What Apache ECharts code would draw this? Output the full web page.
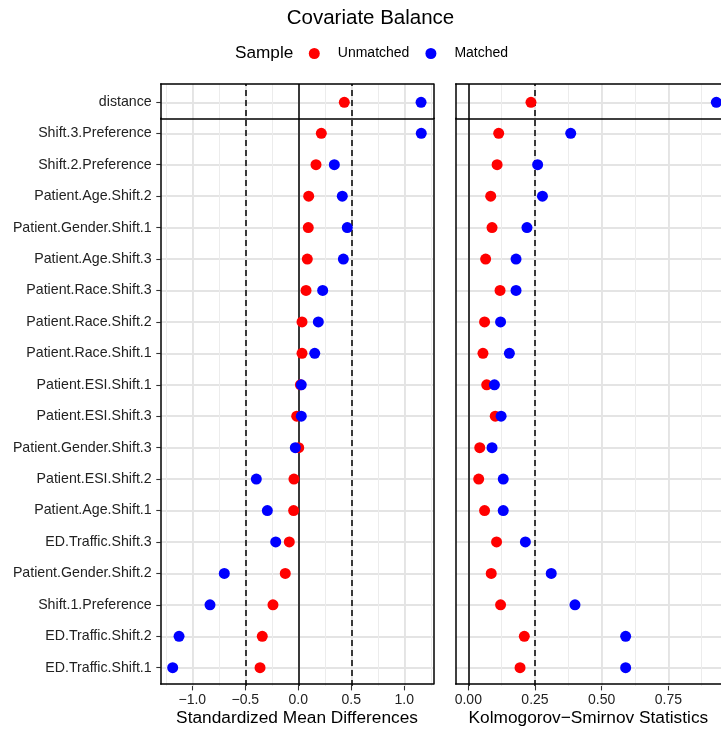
<!DOCTYPE html>
<html>
<head>
<meta charset="utf-8">
<script src="https://cdn.jsdelivr.net/npm/echarts@6/dist/echarts.min.js"></script>
<style>html,body{margin:0;padding:0;background:#fff;}#chart{width:721px;height:732px;}</style>
</head>
<body>
<div id="chart"></div>
<script>
// ---- data ----
const covariates = ["Shift.3.Preference","Shift.2.Preference","Patient.Age.Shift.2","Patient.Gender.Shift.1","Patient.Age.Shift.3","Patient.Race.Shift.3","Patient.Race.Shift.2","Patient.Race.Shift.1","Patient.ESI.Shift.1","Patient.ESI.Shift.3","Patient.Gender.Shift.3","Patient.ESI.Shift.2","Patient.Age.Shift.1","ED.Traffic.Shift.3","Patient.Gender.Shift.2","Shift.1.Preference","ED.Traffic.Shift.2","ED.Traffic.Shift.1"];
const smdUnmatched = [0.217,0.167,0.098,0.094,0.085,0.073,0.035,0.035,0.020,-0.015,0.004,-0.041,-0.044,-0.085,-0.123,-0.239,-0.340,-0.361];
const smdMatched   = [1.160,0.340,0.415,0.462,0.425,0.230,0.189,0.155,0.028,0.028,-0.028,-0.396,-0.292,-0.213,-0.698,-0.833,-1.125,-1.185];
const ksUnmatched  = [0.114,0.108,0.084,0.089,0.065,0.119,0.061,0.055,0.069,0.101,0.043,0.039,0.061,0.106,0.086,0.121,0.210,0.194];
const ksMatched    = [0.384,0.260,0.278,0.220,0.179,0.179,0.121,0.154,0.098,0.123,0.089,0.131,0.131,0.214,0.311,0.400,0.590,0.590];
const distanceLabel = "distance";
const distSmdUnmatched = 0.434, distSmdMatched = 1.158;
const distKsUnmatched = 0.235, distKsMatched = 0.930;
const smdThresholds = [-0.5, 0.5];
const ksThresholds = [0.25];

// ---- layout / style ----
const W = 721;
const FONT = "'Liberation Sans', Arial, Helvetica, sans-serif";
const TXT = '#222';
const RED = '#FF0000', BLUE = '#0000FF';
const upTop = 84, sepY = 118.3, botY = 686;
const cols = [
  {left:160.7, width:272.6, zero:298.3, ppu:106,  minorMin:-1.25, minorMax:1.25, minorInt:0.25, majMin:-1, majMax:1, majInt:0.5,
   name:'Standardized Mean Differences', fmt:v=> (v<0?'\u2212':'') + Math.abs(v).toFixed(1), showY:true,
   un:smdUnmatched, ma:smdMatched, dUn:distSmdUnmatched, dMa:distSmdMatched, thr:smdThresholds},
  {left:455.7, width:272.6, zero:468.3, ppu:266.7, minorMin:0, minorMax:0.875, minorInt:0.125, majMin:0, majMax:0.75, majInt:0.25,
   name:'Kolmogorov\u2212Smirnov Statistics', fmt:v=>v.toFixed(2), showY:false,
   un:ksUnmatched, ma:ksMatched, dUn:distKsUnmatched, dMa:distKsMatched, thr:ksThresholds}
];
const upDataTop = 86.3, upDataH = 32;
const rowTop = 133.3, rowBot = 667.7;

const grid = [], xAxis = [], yAxis = [], series = [];
const noLine = () => ({show:false, onZero:false});
const frameLine = () => ({show:true, onZero:false, lineStyle:{color:'#000', width:1.5}});
function hiddenY(gi){ return {gridIndex:gi, type:'value', show:false, min:0, max:1, axisLine:noLine()}; }
function frameAxis(gi, pos, isX, extra){
  return Object.assign({gridIndex:gi, type:'value', min:0, max:1, position:pos, z:8,
    axisLine:frameLine(), axisTick:{show:false}, axisLabel:{show:false}, splitLine:{show:false}}, extra||{});
}

cols.forEach((c, ci) => {
  const pos = v => c.zero + v*c.ppu;
  const visW = Math.min(c.width, W - c.left);          // part of the panel inside the canvas
  const hasRight = c.left + c.width <= W;
  // frame upper
  let g = grid.length;
  grid.push({left:c.left, top:upTop, width:visW, height:sepY-upTop});
  xAxis.push(frameAxis(g, 'top'));
  xAxis.push(frameAxis(g, 'bottom'));
  yAxis.push(frameAxis(g, 'left'));
  if (hasRight) yAxis.push(frameAxis(g, 'right'));
  // frame lower (carries axis title)
  g = grid.length;
  grid.push({left:c.left, top:sepY, width:visW, height:botY-sepY});
  xAxis.push(frameAxis(g, 'bottom', true, {name:c.name, nameLocation:'middle', nameGap:26,
    nameTextStyle:{fontSize:17.3, color:'#000', fontFamily:FONT}}));
  yAxis.push(frameAxis(g, 'left'));
  if (hasRight) yAxis.push(frameAxis(g, 'right'));
  // minor grid lines
  g = grid.length;
  grid.push({left:pos(c.minorMin), top:upTop, width:pos(c.minorMax)-pos(c.minorMin), height:botY-upTop});
  xAxis.push({gridIndex:g, type:'value', min:c.minorMin, max:c.minorMax, interval:c.minorInt,
    axisLine:noLine(), axisTick:{show:false}, axisLabel:{show:false},
    splitLine:{show:true, lineStyle:{color:'#ececec', width:1}}});
  yAxis.push(hiddenY(g));
  // major grid lines + ticks + labels + reference lines
  g = grid.length;
  grid.push({left:pos(c.majMin), top:upTop, width:pos(c.majMax)-pos(c.majMin), height:botY-upTop});
  const xiMaj = xAxis.length, yiMaj = yAxis.length;
  xAxis.push({gridIndex:g, type:'value', min:c.majMin, max:c.majMax, interval:c.majInt, position:'bottom',
    axisLine:noLine(),
    axisTick:{show:true, length:4.4, lineStyle:{color:'#333', width:1.1}},
    axisLabel:{show:true, margin:7, fontSize:14, color:TXT, fontFamily:FONT, formatter:c.fmt},
    splitLine:{show:true, lineStyle:{color:'#e4e4e4', width:1.8}}});
  yAxis.push(hiddenY(g));
  const refs = [{xAxis:0, lineStyle:{type:'solid', color:'#000', width:1.5}}]
    .concat(c.thr.map(t => ({xAxis:t, lineStyle:{type:[6,4], color:'#000', width:1.5}})));
  series.push({type:'scatter', name:'ref'+ci, xAxisIndex:xiMaj, yAxisIndex:yiMaj, data:[], silent:true, z:3,
    markLine:{silent:true, symbol:['none','none'], label:{show:false}, animation:false, data:refs}});
  // data upper (distance)
  const xMin = (c.left - c.zero)/c.ppu, xMax = (c.left + visW - c.zero)/c.ppu;
  g = grid.length;
  grid.push({left:c.left, top:upDataTop, width:visW, height:upDataH});
  const xiUp = xAxis.length, yiUp = yAxis.length;
  xAxis.push({gridIndex:g, type:'value', show:false, min:xMin, max:xMax, axisLine:noLine()});
  const onlyMid = i => i === 1;
  yAxis.push({gridIndex:g, type:'category', data:['_a', distanceLabel, '_b'], inverse:true, boundaryGap:false,
    position:'left', axisLine:noLine(),
    axisTick:{show:c.showY, interval:onlyMid, length:4.4, lineStyle:{color:'#333', width:1.1}},
    axisLabel:{show:c.showY, interval:onlyMid, margin:9, fontSize:14.2, color:TXT, fontFamily:FONT},
    splitLine:{show:true, interval:onlyMid, lineStyle:{color:'#e4e4e4', width:1.8}}});
  // data lower (covariates)
  g = grid.length;
  grid.push({left:c.left, top:rowTop, width:visW, height:rowBot-rowTop});
  const xiLo = xAxis.length, yiLo = yAxis.length;
  xAxis.push({gridIndex:g, type:'value', show:false, min:xMin, max:xMax, axisLine:noLine()});
  yAxis.push({gridIndex:g, type:'category', data:covariates, inverse:true, boundaryGap:false,
    position:'left', axisLine:noLine(),
    axisTick:{show:c.showY, interval:0, length:4.4, lineStyle:{color:'#333', width:1.1}},
    axisLabel:{show:c.showY, interval:0, margin:9, fontSize:14.2, color:TXT, fontFamily:FONT},
    splitLine:{show:true, interval:0, lineStyle:{color:'#e4e4e4', width:1.8}}});
  // points
  const mk = (name, color, xi, yi, data) => ({type:'scatter', name, xAxisIndex:xi, yAxisIndex:yi, symbol:'circle', symbolSize:11,
    itemStyle:{color, opacity:1}, z:6, animation:false, data});
  series.push(mk('Unmatched', RED, xiUp, yiUp, [[c.dUn, distanceLabel]]));
  series.push(mk('Matched', BLUE, xiUp, yiUp, [[c.dMa, distanceLabel]]));
  series.push(mk('Unmatched', RED, xiLo, yiLo, covariates.map((k,i)=>[c.un[i], k])));
  series.push(mk('Matched', BLUE, xiLo, yiLo, covariates.map((k,i)=>[c.ma[i], k])));
});

const option = {
  backgroundColor:'#fff',
  animation:false,
  textStyle:{fontFamily:FONT},
  title:[
    {text:'Covariate Balance', left:370.5, textAlign:'center', top:8, padding:0,
     textStyle:{fontSize:20.5, fontWeight:'normal', color:'#000', fontFamily:FONT}},
    {text:'Sample', left:235, top:45, padding:0,
     textStyle:{fontSize:17.2, fontWeight:'normal', color:'#000', fontFamily:FONT}}
  ],
  legend:{data:['Unmatched','Matched'], left:308.8, top:46.5, padding:0, icon:'circle', itemWidth:11, itemHeight:11, itemGap:16,
    selectedMode:false,
    textStyle:{fontSize:14, color:'#000', fontFamily:FONT, padding:[0,0,0,13]}},
  grid, xAxis, yAxis, series
};
const chart = echarts.init(document.getElementById('chart'), null, {renderer:'canvas'});
chart.setOption(option);
</script>
</body>
</html>
